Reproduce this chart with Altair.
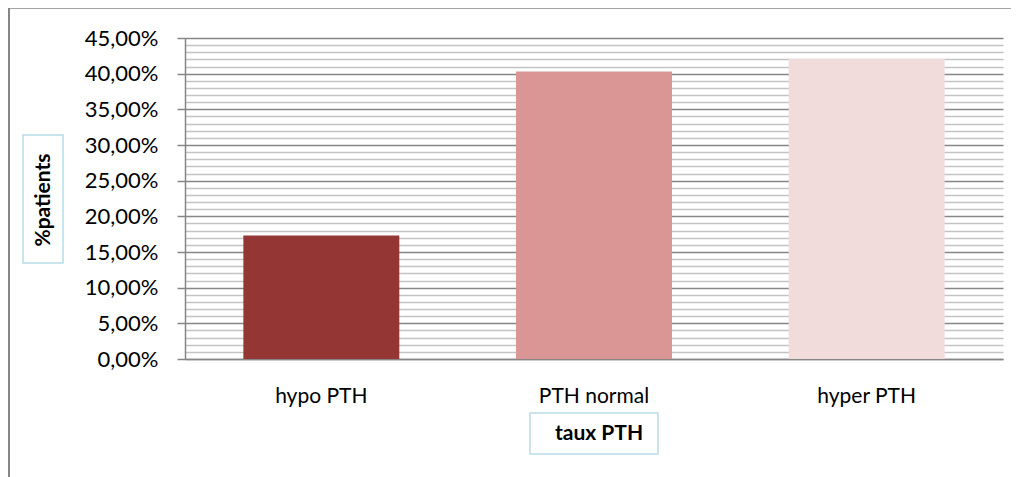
import altair as alt
import pandas as pd

categories = ["hypo PTH", "PTH normal", "hyper PTH"]
values = [0.173, 0.403, 0.421]
colors = ["#943634", "#d99694", "#f2dcdb"]
y_ticks = [i / 100 for i in range(0, 46)]
y_title = "%patients"
x_title = "taux PTH"

W, H = 818, 321
FONT = "Lato"
GRAY = "#868686"
BOXBLUE = "#b7dde8"

df = pd.DataFrame({"cat": categories, "val": values})
major = "round(datum.value*100) % 5 === 0"

bars = alt.Chart(df).mark_bar().encode(
    x=alt.X(
        "cat:N", sort=categories, title=None,
        scale=alt.Scale(paddingInner=0.428, paddingOuter=0.214),
        axis=alt.Axis(labelAngle=0, labelFont=FONT, labelFontSize=21, labelColor="#000000",
                      labelPadding=26, ticks=False, tickSize=0, domainColor=GRAY, domainWidth=1.5,
                      grid=False),
    ),
    y=alt.Y(
        "val:Q", title=None,
        scale=alt.Scale(domain=[0, 0.45], nice=False),
        axis=alt.Axis(
            values=y_ticks,
            labelExpr=f"{major} ? replace(format(datum.value, '.2%'), '.', ',') : ''",
            labelFont=FONT, labelFontSize=22, labelColor="#000000", labelPadding=19,
            labelOverlap=False, labelBound=False, labelFlush=False,
            tickSize=8, tickColor=GRAY, tickWidth=1.5,
            tickOpacity={"condition": {"test": major, "value": 1}, "value": 0},
            domainColor=GRAY, domainWidth=1.5,
            grid=True, gridWidth=1.5,
            gridColor={"condition": {"test": major, "value": GRAY}, "value": "#c3c3c3"},
        ),
    ),
    color=alt.Color("cat:N", scale=alt.Scale(domain=categories, range=colors), legend=None),
)

border_left = alt.Chart(pd.DataFrame({"a": [0]})).mark_rule(color=GRAY, strokeWidth=2).encode(
    x=alt.value(-176), y=alt.value(-30), y2=alt.value(600))
border_top = alt.Chart(pd.DataFrame({"a": [0]})).mark_rule(color=GRAY, strokeWidth=1.5).encode(
    y=alt.value(-30), x=alt.value(-177), x2=alt.value(1100))

ybox = alt.Chart(pd.DataFrame({"a": [0]})).mark_rect(fill="white", stroke=BOXBLUE, strokeWidth=1.5).encode(
    x=alt.value(-162), x2=alt.value(-122), y=alt.value(97), y2=alt.value(225))
ytext = alt.Chart(pd.DataFrame({"t": [y_title]})).mark_text(
    font=FONT, fontSize=21, fontWeight="bold", angle=270, align="center", baseline="middle", color="#000000"
).encode(x=alt.value(-141), y=alt.value(162), text="t:N")

xbox = alt.Chart(pd.DataFrame({"a": [0]})).mark_rect(fill="white", stroke=BOXBLUE, strokeWidth=1.5).encode(
    x=alt.value(345), x2=alt.value(473), y=alt.value(375), y2=alt.value(416))
xtext = alt.Chart(pd.DataFrame({"t": [x_title]})).mark_text(
    font=FONT, fontSize=21, fontWeight="bold", align="center", baseline="middle", color="#000000"
).encode(x=alt.value(414), y=alt.value(396), text="t:N")

chart = alt.layer(bars, border_left, border_top, ybox, ytext, xbox, xtext).properties(
    width=W, height=H,
    autosize=alt.AutoSizeParams(type="none"),
    padding={"left": 177, "top": 30, "right": 8, "bottom": 140},
    background="white",
).configure_view(stroke=None)

chart.save("out.html", embed_options={"renderer": "svg", "actions": False})
